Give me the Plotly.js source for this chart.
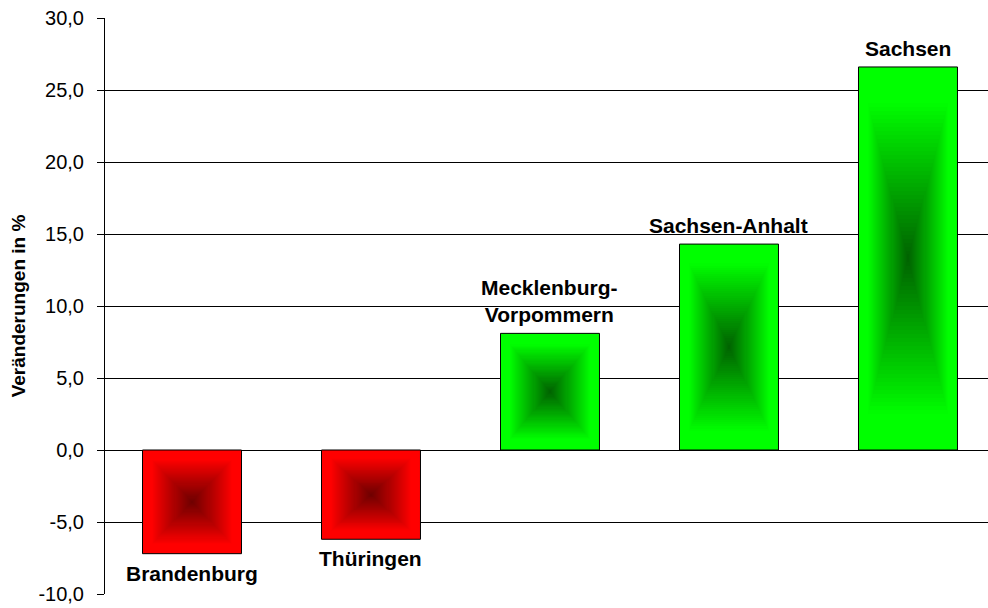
<!DOCTYPE html>
<html>
<head>
<meta charset="utf-8">
<script src="https://cdn.plot.ly/plotly-3.0.1.min.js"></script>
<style>
  html, body { margin: 0; padding: 0; background: #ffffff; }
  #chart { width: 988px; height: 608px; }
</style>
</head>
<body>
<div id="chart"></div>
<script>
// Veränderungen in % je Bundesland
const laender = ['Brandenburg', 'Thüringen', 'Mecklenburg-Vorpommern', 'Sachsen-Anhalt', 'Sachsen'];
const labels = ['Brandenburg', 'Thüringen', 'Mecklenburg-<br>Vorpommern', 'Sachsen-Anhalt', 'Sachsen'];
const werte = [-7.2, -6.2, 8.1, 14.3, 26.6];
const yTicks = [-10, -5, 0, 5, 10, 15, 20, 25, 30];
const yTickText = yTicks.map(v => v.toFixed(1).replace('.', ','));

// Colours: outer edge and centre of the rectangular gradient
const NEG_EDGE = [255, 0, 0], NEG_CENTER = [112, 0, 0];
const POS_EDGE = [0, 255, 0], POS_CENTER = [0, 100, 0];
const BAR_WIDTH = 0.553;
const LAYERS = 48;

function mix(a, b, t) {
  const c = a.map((v, i) => Math.round(v + (b[i] - v) * t));
  return 'rgb(' + c.join(',') + ')';
}

// Concentric rectangles, shrinking toward the bar centre, build the gradient.
// The outer rim stays at the edge colour before darkening sets in.
const traces = [];
for (let k = 0; k < LAYERS; k++) {
  const s = 1 - k / LAYERS;          // size relative to the full bar
  const t = k / (LAYERS - 1);        // 0 at the edge, 1 at the centre
  const d = Math.pow(Math.max(0, (t - 0.18) / 0.82), 0.95);
  traces.push({
    type: 'bar',
    x: laender,
    y: werte.map(v => v * s),
    base: werte.map(v => v * (1 - s) / 2),
    width: laender.map(() => BAR_WIDTH * s),
    marker: {
      color: werte.map(v => v < 0 ? mix(NEG_EDGE, NEG_CENTER, d) : mix(POS_EDGE, POS_CENTER, d)),
      line: k === 0 ? { color: '#000000', width: 1 } : { width: 0 }
    },
    hoverinfo: 'skip',
    showlegend: false
  });
}

// Bar labels: above positive bars, below negative ones
const annotations = laender.map((c, i) => ({
  x: c,
  y: werte[i],
  xref: 'x',
  yref: 'y',
  text: '<b>' + labels[i] + '</b>',
  showarrow: false,
  xanchor: 'center',
  yanchor: werte[i] < 0 ? 'top' : 'bottom',
  yshift: werte[i] < 0 ? -6 : 5,
  font: { family: '"Liberation Sans", Arial, sans-serif', size: 21, color: '#000000' }
}));

const layout = {
  width: 988,
  height: 608,
  margin: { l: 105, r: 0, t: 18, b: 14 },
  paper_bgcolor: '#ffffff',
  plot_bgcolor: '#ffffff',
  barmode: 'overlay',
  bargap: 0,
  font: { family: '"Liberation Sans", Arial, sans-serif', size: 20, color: '#000000' },
  xaxis: {
    type: 'category',
    range: [-0.486, 4.447],
    showticklabels: false,
    showgrid: false,
    showline: false,
    zeroline: false,
    ticks: '',
    fixedrange: true
  },
  yaxis: {
    range: [-10, 30],
    tickmode: 'array',
    tickvals: yTicks,
    ticktext: yTickText,
    showgrid: true,
    gridcolor: '#000000',
    gridwidth: 1,
    zeroline: false,
    showline: true,
    linecolor: '#000000',
    linewidth: 1,
    ticks: 'outside',
    ticklen: 7,
    tickcolor: '#000000',
    ticklabelstandoff: 9,
    tickfont: { size: 20, color: '#000000' },
    title: {
      text: '<b>Veränderungen in %</b>',
      font: { size: 19, color: '#000000' },
      standoff: 7
    },
    automargin: false,
    fixedrange: true
  },
  annotations: annotations
};

Plotly.newPlot('chart', traces, layout, { staticPlot: true, displayModeBar: false });
</script>
</body>
</html>
